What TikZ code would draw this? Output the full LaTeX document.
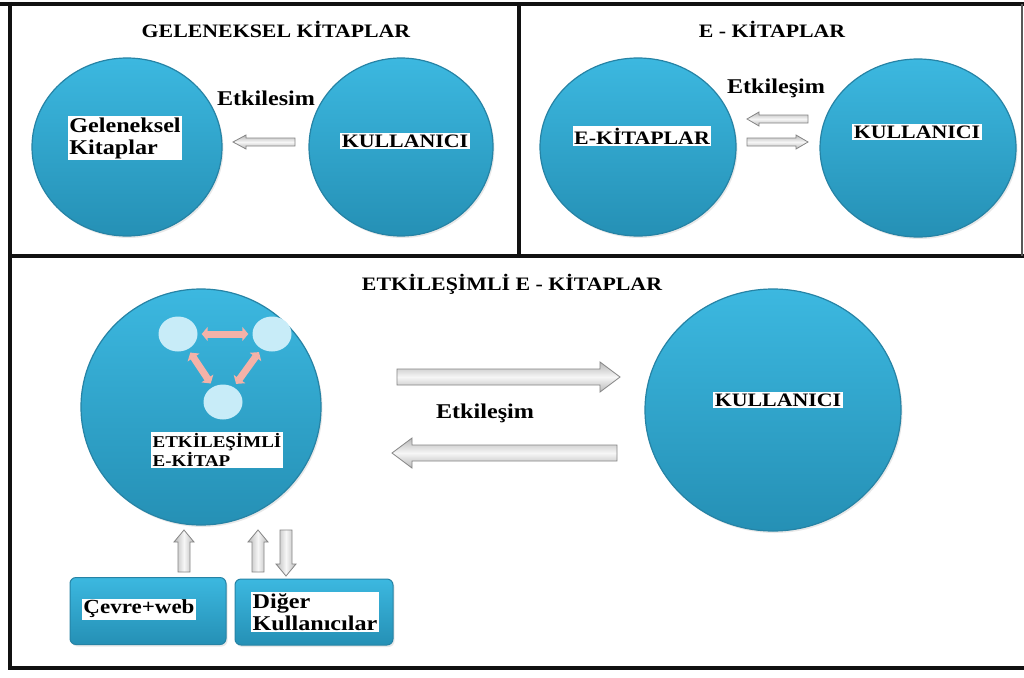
\documentclass[tikz,border=0pt]{standalone}
\usepackage{fontspec}
\setmainfont{Liberation Serif}
\newfontfamily\lblfont[FakeStretch=1.15]{Liberation Serif}
\usetikzlibrary{shapes.geometric,shadows,arrows.meta}

\definecolor{ballTop}{HTML}{3CB8E0}
\definecolor{ballBot}{HTML}{2590B5}
\definecolor{ballRim}{HTML}{2683A5}
\definecolor{frameCol}{HTML}{111111}
\definecolor{arrRim}{HTML}{858585}
\definecolor{arrMid}{HTML}{F6F6F6}
\definecolor{arrSide}{HTML}{B8B8B8}
\definecolor{dotCol}{HTML}{C8ECF8}
\definecolor{pinkCol}{HTML}{F4B2A8}

% horizontal block arrow: tail x, tip x, y, shaft half, head half, head length
\newcommand\hblockarrow[6]{%
  \pgfmathsetmacro\hbase{#2-sign(#2-#1)*#6}%
  \draw[grayarrow, top color=arrSide, bottom color=arrSide, middle color=arrMid]
    (#1,#3-#4) -- (\hbase,#3-#4) -- (\hbase,#3-#5) -- (#2,#3)
    -- (\hbase,#3+#5) -- (\hbase,#3+#4) -- (#1,#3+#4) -- cycle;}
% vertical block arrow: x, tail y, tip y, shaft half, head half, head length
\newcommand\vblockarrow[6]{%
  \pgfmathsetmacro\vbase{#3-sign(#3-#2)*#6}%
  \draw[grayarrow, left color=arrSide, right color=arrSide, middle color=arrMid]
    (#1-#4,#2) -- (#1-#4,\vbase) -- (#1-#5,\vbase) -- (#1,#3)
    -- (#1+#5,\vbase) -- (#1+#4,\vbase) -- (#1+#4,#2) -- cycle;}

\begin{document}
\begin{tikzpicture}[x=1pt,y=-1pt,
  ball/.style={ellipse, inner sep=0pt, top color=ballTop, bottom color=ballBot,
    draw=ballRim, line width=1.2pt,
    drop shadow={opacity=0.18, shadow xshift=1.5pt, shadow yshift=-2pt}},
  tile/.style={rectangle, rounded corners=6pt, inner sep=0pt, top color=ballTop,
    bottom color=ballBot, draw=ballRim, line width=1pt,
    drop shadow={opacity=0.18, shadow xshift=1.5pt, shadow yshift=-2pt}},
  dot/.style={ellipse, inner sep=0pt, fill=dotCol, minimum width=39pt, minimum height=35pt},
  lbl/.style={rectangle, fill=white, inner sep=1.5pt, align=left, text=black,
    font=\lblfont\bfseries\fontsize{19}{21}\selectfont},
  lbllow/.style={lbl, font=\lblfont\bfseries\fontsize{21}{22}\selectfont},
  paneltitle/.style={inner sep=0pt, text=black,
    font=\lblfont\bfseries\fontsize{19}{21}\selectfont},
  linktext/.style={inner sep=0pt, text=black,
    font=\lblfont\bfseries\fontsize{21}{22}\selectfont},
  grayarrow/.style={draw=arrRim, line width=0.8pt, line join=miter},
  pinkarrow/.style={draw=pinkCol, line width=7pt,
    {Triangle[width=14pt,length=6pt]}-{Triangle[width=14pt,length=6pt]},
    shorten <=4pt, shorten >=4pt},
  frame/.style={draw=frameCol, line width=4pt}
]
\useasboundingbox (0,0) rectangle (1024,677);
\fill[white] (0,0) rectangle (1024,677);

% panel frame
\draw[frame] (0,4) -- (1024,4);
\draw[frame] (10,2) -- (10,670);
\draw[frame] (10,256) -- (1024,256);
\draw[frame] (519,4) -- (519,256);
\draw[frame] (8,668) -- (1024,668);
\draw[draw=frameCol!70, line width=1.5pt] (1022,4) -- (1022,256);

% ---- traditional books
\node[paneltitle] (t1) at (276,29) {GELENEKSEL KİTAPLAR};
\node[ball, minimum width=190pt, minimum height=178pt] (gk) at (127,147) {};
\node[ball, minimum width=184pt, minimum height=178pt] (ku1) at (401,147) {};
\node[lbllow] (gkl) at (125,138) {Geleneksel\\Kitaplar};
\node[lbl] (ku1l) at (405,141) {KULLANICI};
\node[linktext] (e1) at (266,98) {Etkilesim};
\hblockarrow{295}{233}{142}{4}{7}{13}

% ---- e-books
\node[paneltitle] (t2) at (772,29) {E - KİTAPLAR};
\node[ball, minimum width=196pt, minimum height=178pt] (ek) at (638,147) {};
\node[ball, minimum width=196pt, minimum height=178pt] (ku2) at (918,148) {};
\node[lbl] (ekl) at (642,136) {E-KİTAPLAR};
\node[lbl] (ku2l) at (917,132) {KULLANICI};
\node[linktext] (e2) at (776,88) {Etkileşim};
\hblockarrow{808}{747}{119}{4}{7}{12}
\hblockarrow{747}{808}{142}{4}{7}{12}

% ---- interactive e-books
\node[paneltitle] (t3) at (512,284) {ETKİLEŞİMLİ E - KİTAPLAR};
\node[ball, minimum width=240pt, minimum height=236pt] (ei) at (201,407) {};
\node[ball, minimum width=256pt, minimum height=242pt] (ku3) at (773,410) {};
\node[dot] (d1) at (178,334) {};
\node[dot] (d2) at (272,334) {};
\node[dot] (d3) at (223,402) {};
\draw[pinkarrow] (d1) -- (d2);
\draw[pinkarrow] (d1) -- (d3);
\draw[pinkarrow] (d2) -- (d3);
\node[lbl, font=\lblfont\bfseries\fontsize{16.5}{19}\selectfont] (eil) at (217,450) {ETKİLEŞİMLİ\\E-KİTAP};
\node[lbl] (ku3l) at (778,400) {KULLANICI};
\node[linktext] (e3) at (485,413) {Etkileşim};
\hblockarrow{397}{620}{377}{8}{15}{20}
\hblockarrow{617}{392}{453}{8}{15}{20}

% sources feeding the interactive e-book
\node[tile, minimum width=156pt, minimum height=67pt] (cw) at (148,611) {};
\node[tile, minimum width=158pt, minimum height=66pt] (dk) at (314,612) {};
\node[lbl, font=\lblfont\bfseries\fontsize{20}{22}\selectfont] (cwl) at (139,609) {Çevre+web};
\node[lbllow] (dkl) at (315,612) {Diğer\\Kullanıcılar};
\vblockarrow{184}{572}{530}{6}{10}{12}
\vblockarrow{258}{572}{530}{6}{10}{12}
\vblockarrow{286}{530}{576}{6}{10}{12}
\end{tikzpicture}
\end{document}
